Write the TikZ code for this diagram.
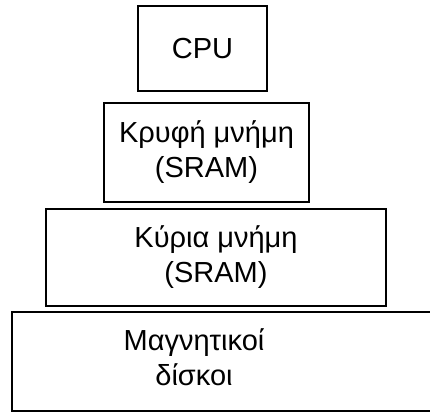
\documentclass[tikz,border=0pt]{standalone}
\usepackage{fontspec}
\setmainfont{Liberation Sans}
\usepackage{tikz}

\begin{document}
\begin{tikzpicture}[x=1pt,y=-1pt,font=\fontsize{29}{35}\selectfont]
\tikzset{level/.style={draw,line width=1.3pt,align=center,inner sep=0pt}}
\useasboundingbox (0,0) rectangle (430,412);
\node[level,minimum width=129pt,minimum height=85pt] (cpu) at (202.5,48.5) {CPU};
\node[level,minimum width=205pt,minimum height=99pt] (cache) at (206.5,152.5) {Κρυφή μνήμη\\(SRAM)};
\node[level,minimum width=340pt,minimum height=97pt] (main) at (216,257.5) {Κύρια μνήμη\\(SRAM)};
\clip (0,0) rectangle (430,412);
\draw [line width=1.3pt] (440,312) -- (12,312) -- (12,411) -- (440,411);
\node[align=center] (disk) at (194,357) {Μαγνητικοί\\δίσκοι};
\end{tikzpicture}
\end{document}
